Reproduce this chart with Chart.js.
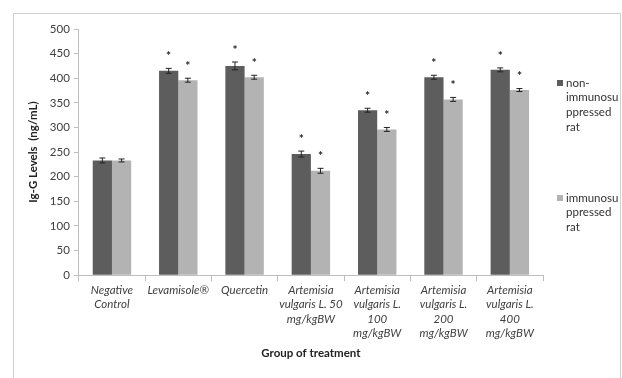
<!DOCTYPE html>
<html>
<head>
<meta charset="utf-8">
<script src="https://cdn.jsdelivr.net/npm/chart.js@4"></script>
<style>
  html, body { margin: 0; padding: 0; background: #fff; overflow: hidden; }
  #wrap { position: relative; width: 622px; height: 378px; overflow: hidden; }
  #frame { position: absolute; left: 13px; top: 13px; width: 608px; height: 380px; border: 1px solid #d0d0d0; box-sizing: border-box; pointer-events: none; }
</style>
</head>
<body>
<div id="wrap">
  <canvas id="igChart" width="622" height="378"></canvas>
  <div id="frame"></div>
</div>
<script>
// Ig-G levels per treatment group
const groups = [
    ['Negative', 'Control'],
    ['Levamisole®'],
    ['Quercetin'],
    ['Artemisia', 'vulgaris L. 50', 'mg/kgBW'],
    ['Artemisia', 'vulgaris L.', '100', 'mg/kgBW'],
    ['Artemisia', 'vulgaris L.', '200', 'mg/kgBW'],
    ['Artemisia', 'vulgaris L.', '400', 'mg/kgBW']
];
const nonImmunoValues = [233, 415, 425, 246, 335, 402, 417];
const nonImmunoErrors = [5, 5, 8, 6, 4, 4, 4];
const immunoValues = [233, 396, 402, 212, 296, 357, 376];
const immunoErrors = [3, 4, 4, 5, 4, 4, 3];
// significance marks (* above the bar)
const nonImmunoSig = [false, true, true, true, true, true, true];
const immunoSig = [false, true, true, true, true, true, true];
const yTicks = [0, 50, 100, 150, 200, 250, 300, 350, 400, 450, 500];
const legendLines = [['non-', 'immunosu', 'ppressed', 'rat'], ['immunosu', 'ppressed', 'rat']];

const FONT = 'Lato, "Open Sans", sans-serif';
const DARK = '#5d5d5d';
const LIGHT = '#b3b3b3';

// error bars + asterisks
const errorBarPlugin = {
    id: 'errorBars',
    afterDatasetsDraw(chart) {
        const ctx = chart.ctx;
        const y = chart.scales.y;
        chart.data.datasets.forEach((ds, di) => {
            const meta = chart.getDatasetMeta(di);
            meta.data.forEach((bar, i) => {
                const v = ds.data[i], e = ds.errors[i];
                const top = y.getPixelForValue(v + e);
                const bot = y.getPixelForValue(v - e);
                ctx.save();
                ctx.strokeStyle = '#222';
                ctx.lineWidth = 1;
                ctx.beginPath();
                ctx.moveTo(bar.x, top); ctx.lineTo(bar.x, bot);
                ctx.moveTo(bar.x - 3, top); ctx.lineTo(bar.x + 3, top);
                ctx.moveTo(bar.x - 3, bot); ctx.lineTo(bar.x + 3, bot);
                ctx.stroke();
                if (ds.sig[i]) {
                    ctx.fillStyle = '#222';
                    ctx.font = 'bold 12px ' + FONT;
                    ctx.textAlign = 'center';
                    ctx.textBaseline = 'middle';
                    ctx.fillText('*', bar.x, top - 12);
                }
                ctx.restore();
            });
        });
    }
};

// legend on the right with wrapped labels
const sideLegendPlugin = {
    id: 'sideLegend',
    afterDraw(chart) {
        const ctx = chart.ctx;
        const starts = [83, 198];
        ctx.save();
        ctx.font = '11.5px ' + FONT;
        ctx.textBaseline = 'middle';
        chart.data.datasets.forEach((ds, di) => {
            const y0 = starts[di];
            ctx.fillStyle = ds.backgroundColor;
            ctx.fillRect(557, y0 - 3, 6, 6);
            ctx.fillStyle = '#333';
            legendLines[di].forEach((line, li) => {
                ctx.fillText(line, 566, y0 + li * 14.6);
            });
        });
        ctx.restore();
    }
};

new Chart(document.getElementById('igChart'), {
    type: 'bar',
    data: {
        labels: groups,
        datasets: [
            { label: 'non-immunosuppressed rat', data: nonImmunoValues, errors: nonImmunoErrors, sig: nonImmunoSig, backgroundColor: DARK, borderWidth: 0 },
            { label: 'immunosuppressed rat', data: immunoValues, errors: immunoErrors, sig: immunoSig, backgroundColor: LIGHT, borderWidth: 0 }
        ]
    },
    options: {
        responsive: false,
        animation: false,
        layout: { padding: { left: 22, right: 79, top: 29, bottom: 14 } },
        datasets: { bar: { categoryPercentage: 0.58, barPercentage: 1.0 } },
        plugins: { legend: { display: false }, tooltip: { enabled: false } },
        scales: {
            x: {
                grid: { display: true, drawOnChartArea: false, offset: true, tickLength: 6, color: '#bfbfbf' },
                border: { color: '#bfbfbf' },
                ticks: { color: '#404040', font: { family: FONT, size: 11.5, style: 'italic', lineHeight: 1.24 }, maxRotation: 0, autoSkip: false, padding: 2 },
                title: { display: true, text: 'Group of treatment', color: '#222', font: { family: FONT, size: 11.5, weight: 'bold' }, padding: { top: 4 } }
            },
            y: {
                min: 0, max: 500,
                afterBuildTicks(axis) { axis.ticks = yTicks.map(v => ({ value: v })); },
                grid: { display: true, drawOnChartArea: false, tickLength: 5, color: '#bfbfbf' },
                border: { color: '#bfbfbf' },
                ticks: { color: '#404040', font: { family: FONT, size: 11.5 }, padding: 4 },
                title: { display: true, text: 'Ig-G Levels  (ng/mL)', color: '#222', font: { family: FONT, size: 11.5, weight: 'bold' }, padding: { bottom: 6 } }
            }
        }
    },
    plugins: [errorBarPlugin, sideLegendPlugin]
});
</script>
</body>
</html>
